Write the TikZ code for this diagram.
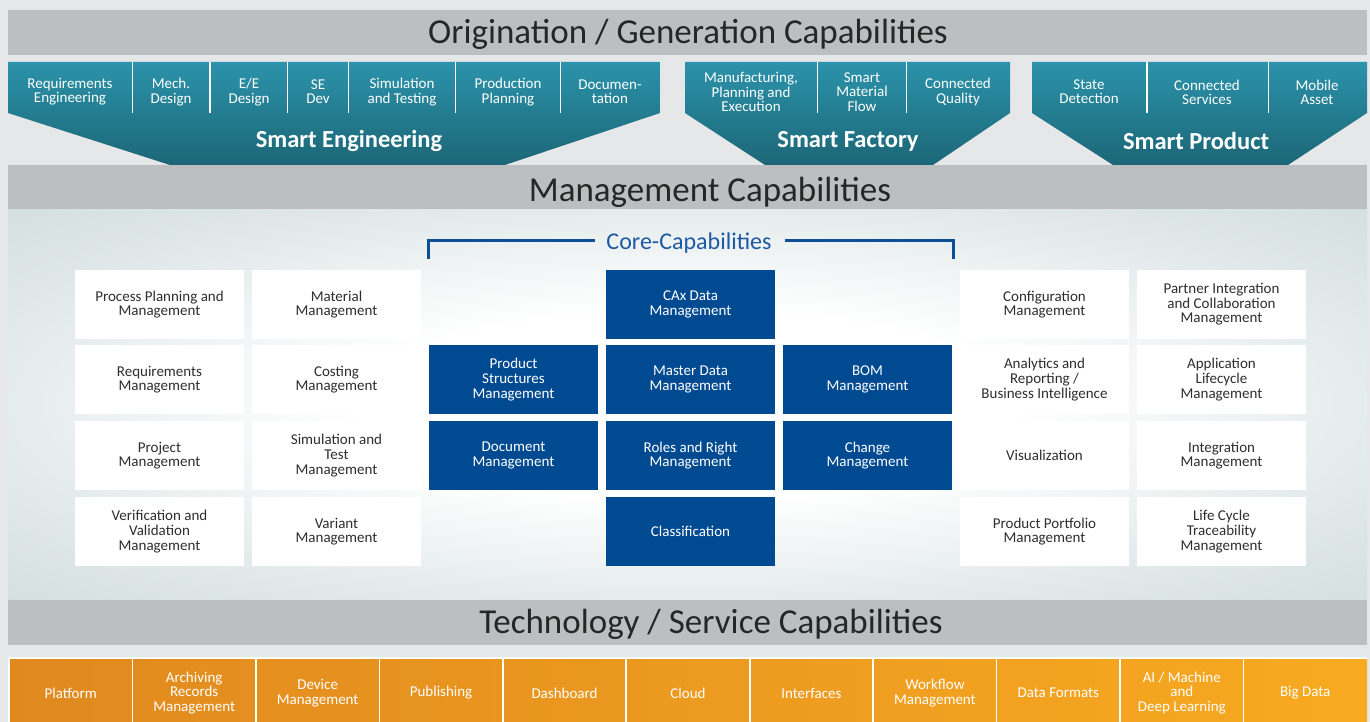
\documentclass[tikz,border=0pt]{standalone}
\usepackage{fontspec}
\setmainfont{Carlito}
\definecolor{bg}{HTML}{E6E7E9}
\definecolor{band}{HTML}{BDBEC1}
\definecolor{hdrtxt}{HTML}{262626}
\definecolor{tealT}{HTML}{2B93AB}
\definecolor{tealB}{HTML}{1C6676}
\definecolor{coreblue}{HTML}{004A91}
\definecolor{bracketc}{HTML}{0D4F97}
\definecolor{coretxt}{HTML}{1E5AA3}
\definecolor{celltxt}{HTML}{2E2E2E}
\definecolor{oraL}{HTML}{E0891F}
\definecolor{oraR}{HTML}{F8AA20}
\definecolor{pA}{HTML}{DFE7E8}
\definecolor{pB}{HTML}{C9D6D8}
\definecolor{pC}{HTML}{9AB1B5}
\pgfdeclareradialshading{panelshade}{\pgfpoint{0bp}{0bp}}{color(0bp)=(white); color(12bp)=(white); color(28bp)=(pA); color(44bp)=(pB); color(64bp)=(pC)}
\begin{document}
\begin{tikzpicture}[x=1pt,y=-1pt,
  hdr/.style={font=\fontsize{35}{38}\selectfont, text=hdrtxt, inner sep=0pt},
  cell/.style={minimum width=169pt, minimum height=69pt, inner sep=0pt, align=center, font=\fontsize{15}{14.6}\selectfont},
  wcell/.style={cell, fill=white, text=celltxt},
  bcell/.style={cell, fill=coreblue, text=white},
  tlab/.style={align=center, text=white, inner sep=0pt, font=\fontsize{15}{14.2}\selectfont},
  tbig/.style={text=white, inner sep=0pt, font=\bfseries\fontsize{24.5}{26}\selectfont},
  olab/.style={align=center, text=white, inner sep=0pt, font=\fontsize{15}{14.6}\selectfont},
  divider/.style={white, line width=1.6pt},
  bandbox/.style={fill=band}
]
\useasboundingbox (0,0) rectangle (1370,722);
\fill[bg] (0,0) rectangle (1370,722);

% bands
\fill[bandbox] (8,10) rectangle (1367,55);
\node[hdr] (h1) at (688,34) {Origination / Generation Capabilities};

% teal groups
\shade[top color=tealT, bottom color=tealB] (8,62) -- (660,62) -- (660,113) -- (505,165) -- (170,165) -- (8,113) -- cycle;
\shade[top color=tealT, bottom color=tealB] (685,62) -- (1010,62) -- (1010,113) -- (933,165) -- (765,165) -- (685,113) -- cycle;
\shade[top color=tealT, bottom color=tealB] (1032,62) -- (1367,62) -- (1367,113) -- (1288,165) -- (1113,165) -- (1032,113) -- cycle;
\foreach \x in {132.5,210,287.5,348.5,455.5,560.5,817.5,906.5,1147,1268.5}
  \draw[divider] (\x,62) -- (\x,113);

\node[tlab] (t1) at (70,92) {Requirements\\Engineering};
\node[tlab] (t2) at (171,92) {Mech.\\Design};
\node[tlab] (t3) at (249,92) {E/E\\Design};
\node[tlab] (t4) at (318,92) {SE\\Dev};
\node[tlab] (t5) at (402,92) {Simulation\\and Testing};
\node[tlab] (t6) at (508,92) {Production\\Planning};
\node[tlab] (t7) at (610,92) {Documen-\\tation};
\node[tlab] (t8) at (751,92) {Manufacturing,\\Planning and\\Execution};
\node[tlab] (t9) at (862,92) {Smart\\Material\\Flow};
\node[tlab] (t10) at (958,92) {Connected\\Quality};
\node[tlab] (t11) at (1089,92) {State\\Detection};
\node[tlab] (t12) at (1207,92) {Connected\\Services};
\node[tlab] (t13) at (1317,92) {Mobile\\Asset};
\node[tbig] (g1) at (349,141) {Smart Engineering};
\node[tbig] (g2) at (848,141) {Smart Factory};
\node[tbig] (g3) at (1196,141) {Smart Product};

% management band and panel
\fill[bandbox] (8,165) rectangle (1367,210);
\node[hdr] (h2) at (710,192) {Management Capabilities};
\shade[shading=panelshade] (8,210) rectangle (1367,600);

% core bracket
\draw[bracketc, line width=3pt] (428,259) -- (428,240) -- (595,240);
\draw[bracketc, line width=3pt] (785,240) -- (953,240) -- (953,259);
\node[text=coretxt, inner sep=0pt, font=\fontsize{24}{26}\selectfont] (core) at (689,243) {Core-Capabilities};

% cells
\node[wcell] (w11) at (159.5,304.5) {Process Planning and\\Management};
\node[wcell] (w12) at (336.5,304.5) {Material\\Management};
\node[wcell] (w21) at (159.5,379.5) {Requirements\\Management};
\node[wcell] (w22) at (336.5,379.5) {Costing\\Management};
\node[wcell] (w31) at (159.5,455.5) {Project\\Management};
\node[wcell] (w32) at (336.5,455.5) {Simulation and\\Test\\Management};
\node[wcell] (w41) at (159.5,531.5) {Verification and\\Validation\\Management};
\node[wcell] (w42) at (336.5,531.5) {Variant\\Management};

\node[bcell] (b1) at (690.5,304.5) {CAx Data\\Management};
\node[bcell] (b2) at (513.5,379.5) {Product\\Structures\\Management};
\node[bcell] (b3) at (690.5,379.5) {Master Data\\Management};
\node[bcell] (b4) at (867.5,379.5) {BOM\\Management};
\node[bcell] (b5) at (513.5,455.5) {Document\\Management};
\node[bcell] (b6) at (690.5,455.5) {Roles and Right\\Management};
\node[bcell] (b7) at (867.5,455.5) {Change\\Management};
\node[bcell] (b8) at (690.5,531.5) {Classification};

\node[wcell] (r11) at (1044.5,304.5) {Configuration\\Management};
\node[wcell] (r12) at (1221.5,304.5) {Partner Integration\\and Collaboration\\Management};
\node[wcell] (r21) at (1044.5,379.5) {Analytics and\\Reporting /\\Business Intelligence};
\node[wcell] (r22) at (1221.5,379.5) {Application\\Lifecycle\\Management};
\node[wcell] (r31) at (1044.5,455.5) {Visualization};
\node[wcell] (r32) at (1221.5,455.5) {Integration\\Management};
\node[wcell] (r41) at (1044.5,531.5) {Product Portfolio\\Management};
\node[wcell] (r42) at (1221.5,531.5) {Life Cycle\\Traceability\\Management};

% technology band
\fill[bandbox] (8,600) rectangle (1367,645);
\node[hdr] (h3) at (711,624) {Technology / Service Capabilities};

% orange row
\shade[left color=oraL, right color=oraR] (9,658) rectangle (1367,722);
\draw[white, line width=1.5pt] (9,722) -- (9,658) -- (1367,658);
\foreach \i in {1,...,10}
  \draw[divider] ({9+123.45*\i},658) -- ({9+123.45*\i},722);
\node[olab] (o1) at ({9+123.45*0.5},693) {Platform};
\node[olab] (o2) at ({9+123.45*1.5},693) {Archiving\\Records\\Management};
\node[olab] (o3) at ({9+123.45*2.5},693) {Device\\Management};
\node[olab] (o4) at ({9+123.45*3.5},693) {Publishing};
\node[olab] (o5) at ({9+123.45*4.5},693) {Dashboard};
\node[olab] (o6) at ({9+123.45*5.5},693) {Cloud};
\node[olab] (o7) at ({9+123.45*6.5},693) {Interfaces};
\node[olab] (o8) at ({9+123.45*7.5},693) {Workflow\\Management};
\node[olab] (o9) at ({9+123.45*8.5},693) {Data Formats};
\node[olab] (o10) at ({9+123.45*9.5},693) {AI / Machine\\and\\Deep Learning};
\node[olab] (o11) at ({9+123.45*10.5},693) {Big Data};
\end{tikzpicture}
\end{document}
